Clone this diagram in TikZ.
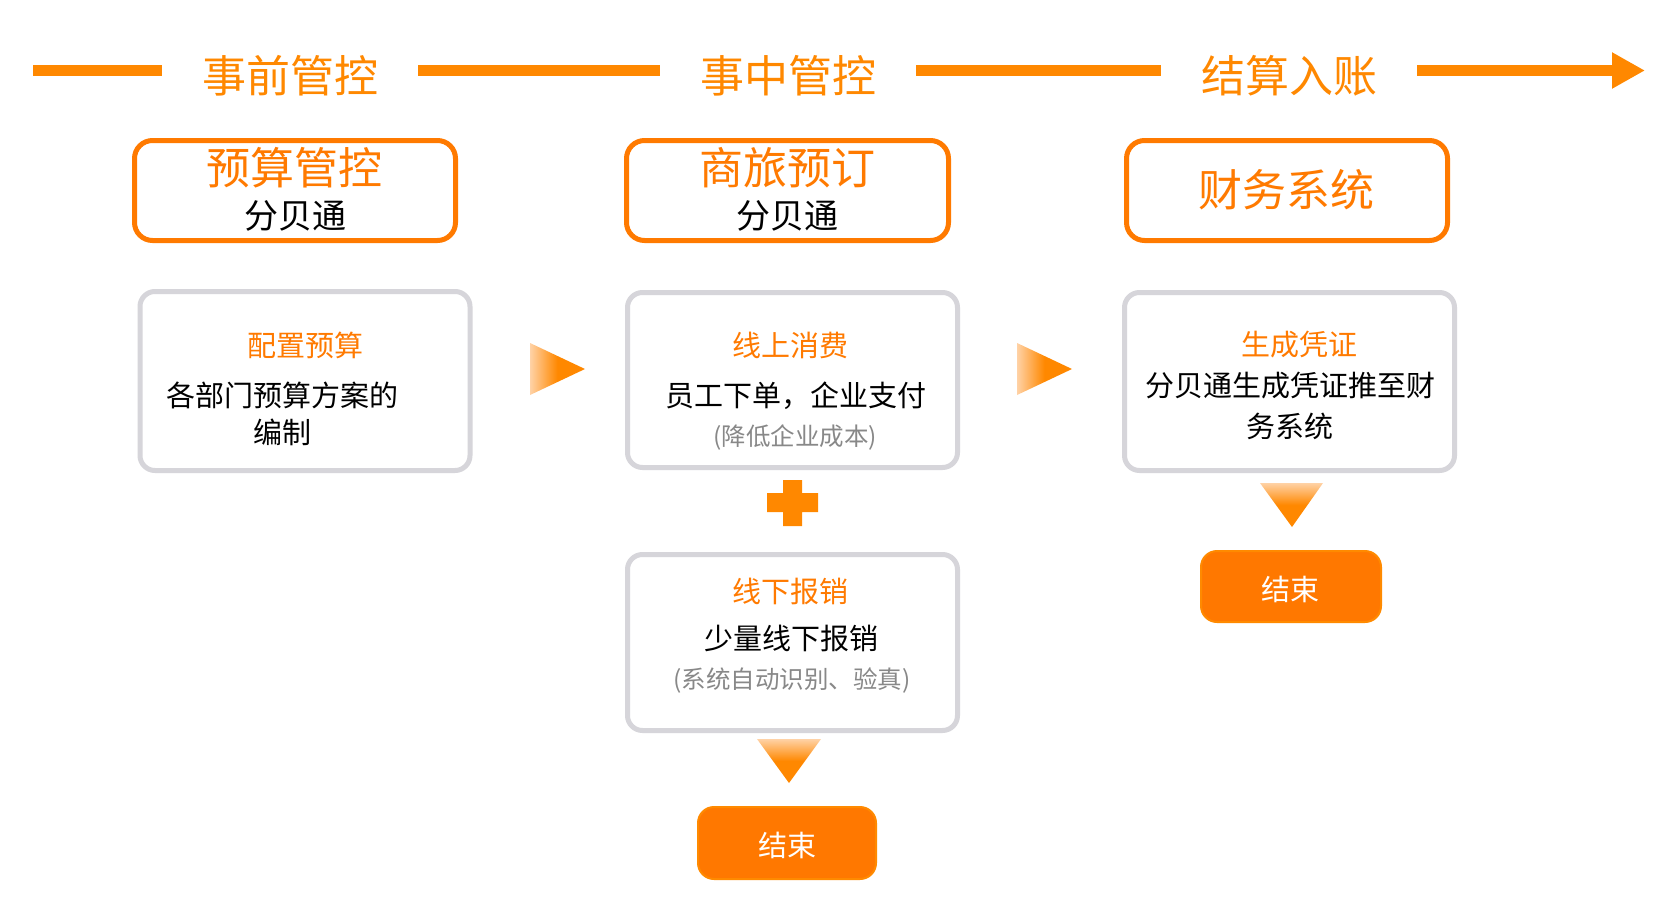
\documentclass[tikz,border=0pt]{standalone}
\usepackage{fontspec}
\setmainfont{Noto Sans CJK SC}
\usetikzlibrary{arrows.meta}
\definecolor{orT}{HTML}{FF8800}
\definecolor{orB}{HTML}{FF7A00}
\definecolor{grayB}{HTML}{D6D5DA}
\definecolor{grayT}{HTML}{888888}
\definecolor{endFill}{HTML}{FF7800}
\definecolor{endBorder}{HTML}{FF8A00}
\definecolor{lightOr}{HTML}{FFD2A6}
\newcommand{\fsz}[1]{\fontsize{#1}{#1}\selectfont}
\begin{document}
\begin{tikzpicture}[x=1pt,y=-1pt,
  ttl/.style={text=orT, font=\fsz{44pt}, inner xsep=40pt, inner ysep=0pt},
  timeline/.style={draw=orT, line width=11pt},
  obox/.style={draw=orB, line width=5pt, rounded corners=18pt, minimum width=321pt, minimum height=100pt, inner sep=0pt},
  gbox/.style={draw=grayB, line width=5pt, rounded corners=15pt, minimum width=330pt, inner sep=0pt},
  endbox/.style={fill=endFill, draw=endBorder, line width=2pt, rounded corners=16pt, inner sep=0pt},
  bigt/.style={text=orB, font=\fsz{44pt}, inner sep=0pt},
  subt/.style={text=black, font=\fsz{34pt}, inner sep=0pt},
  headt/.style={text=orB, font=\fsz{29pt}, inner sep=0pt},
  bodyt/.style={text=black, font=\fsz{29pt}, inner sep=0pt},
  notet/.style={text=grayT, font=\fsz{24.5pt}, inner sep=0pt},
  endt/.style={text=white, font=\fsz{29pt}, inner sep=0pt},
  rtri/.style={left color=lightOr, right color=orT, middle color=orT},
  dtri/.style={top color=lightOr, bottom color=orT, middle color=orT}
]
\useasboundingbox[fill=white] (0,0) rectangle (1674,924);

% timeline
\coordinate (c0) at (33,70.5);
\coordinate (cE) at (1645,70.5);
\node[ttl] (t1) at (290,75.5) {事前管控};
\node[ttl] (t2) at (788,75.5) {事中管控};
\node[ttl] (t3) at (1289,75.5) {结算入账};
\draw[timeline] (c0) -- (t1.west |- c0);
\draw[timeline] (t1.east |- c0) -- (t2.west |- c0);
\draw[timeline] (t2.east |- c0) -- (t3.west |- c0);
\draw[timeline, -{Triangle[length=33pt,width=34pt]}] (t3.east |- c0) -- (cE);

% orange outlined boxes
\node[obox] (b1) at (295,190.5) {};
\node[obox, minimum width=322pt] (b2) at (787.5,190.5) {};
\node[obox] (b3) at (1287,190.5) {};
\node[bigt] (b1a) at (294.5,167.5) {预算管控};
\node[subt] (b1b) at (295,215.5) {分贝通};
\node[bigt] (b2a) at (787,167.5) {商旅预订};
\node[subt] (b2b) at (787,215.5) {分贝通};
\node[bigt] (b3a) at (1286.5,190) {财务系统};

% gray boxes
\node[gbox, minimum height=179pt] (g1) at (305,381) {};
\node[gbox, minimum height=175pt] (g2) at (792.5,380) {};
\node[gbox, minimum height=178pt] (g3) at (1289.5,381.5) {};
\node[gbox, minimum height=176pt] (g4) at (792.5,642.5) {};

\node[headt] (g1a) at (305,345.5) {配置预算};
\node[bodyt] (g1b) at (282,395) {各部门预算方案的};
\node[bodyt] (g1c) at (282.5,432.5) {编制};

\node[headt] (g2a) at (790.5,345) {线上消费};
\node[bodyt] (g2b) at (796,395.5) {员工下单，企业支付};
\node[notet] (g2c) at (795,437) {(降低企业成本)};

\node[headt] (g3a) at (1299.5,344.5) {生成凭证};
\node[bodyt] (g3b) at (1290,386) {分贝通生成凭证推至财};
\node[bodyt] (g3c) at (1290,426) {务系统};

\node[headt] (g4a) at (790.5,591.5) {线下报销};
\node[bodyt] (g4b) at (791.5,638.5) {少量线下报销};
\node[notet] (g4c) at (792,681) {(系统自动识别、验真)};

% end boxes
\node[endbox, minimum width=178pt, minimum height=72pt] (e1) at (787,843) {};
\node[endt] (e1t) at (787,845.5) {结束};
\node[endbox, minimum width=180pt, minimum height=71pt] (e2) at (1291,586.5) {};
\node[endt] (e2t) at (1290,589) {结束};

% flow marks
\shade[rtri] (530,343) -- (585,369) -- (530,395) -- cycle;
\shade[rtri] (1017,343) -- (1072,369) -- (1017,395) -- cycle;
\shade[dtri] (757,739) -- (821,739) -- (789,783) -- cycle;
\shade[dtri] (1260,483) -- (1323,483) -- (1292,527) -- cycle;
\fill[orT] (783,480) -- (802,480) -- (802,493) -- (818,493) -- (818,512) -- (802,512) -- (802,526) -- (783,526) -- (783,512) -- (767,512) -- (767,493) -- (783,493) -- cycle;
\end{tikzpicture}
\end{document}
